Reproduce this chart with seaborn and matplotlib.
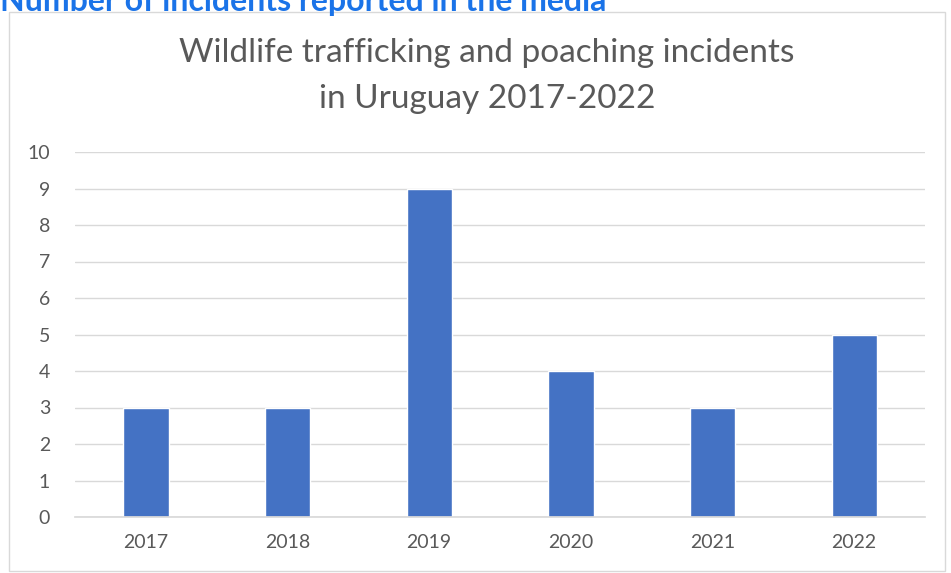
import matplotlib
matplotlib.use("Agg")
import matplotlib.pyplot as plt
import seaborn as sns
import pandas as pd
from matplotlib.patches import Rectangle

# data
years = ["2017", "2018", "2019", "2020", "2021", "2022"]
incidents = [3, 3, 9, 4, 3, 5]

df = pd.DataFrame({"year": years, "incidents": incidents})

sns.set_theme(style="white")
plt.rcParams["font.family"] = ["Lato", "DejaVu Sans"]

fig = plt.figure(figsize=(9.51, 5.73), dpi=100)
ax = fig.add_axes([75 / 951, 1 - 517 / 573, 850 / 951, 365 / 573])

sns.barplot(data=df, x="year", y="incidents", color="#4472C4", width=0.32,
            saturation=1, ax=ax)

ax.set_ylim(0, 10)
ax.set_yticks(range(0, 11))
ax.yaxis.grid(True, color="#d9d9d9", linewidth=1)
ax.set_axisbelow(True)
for s in ["top", "right", "left"]:
    ax.spines[s].set_visible(False)
ax.spines["bottom"].set_color("#d9d9d9")
ax.tick_params(axis="both", length=0, labelsize=14, colors="#595959")
ax.tick_params(axis="y", pad=18)
ax.tick_params(axis="x", pad=12)
ax.set_xlabel("")
ax.set_ylabel("")

fig.text(487 / 951, 1 - 76 / 573, "Wildlife trafficking and poaching incidents\nin Uruguay 2017-2022",
         ha="center", va="center", fontsize=24, color="#595959", linespacing=1.65)

# outer chart frame
fig.patches.append(Rectangle((9 / 951, 0.003), 936 / 951, 1 - 12 / 573 - 0.003,
                             transform=fig.transFigure, fill=False,
                             edgecolor="#d9d9d9", linewidth=1))

# clipped heading from the surrounding page
fig.text(0.0, 1 - 1 / 573, "Number of incidents reported in the media", ha="left",
         va="center", fontsize=23, fontweight="bold", color="#1a73e8")

fig.savefig("out.png", dpi=100)
